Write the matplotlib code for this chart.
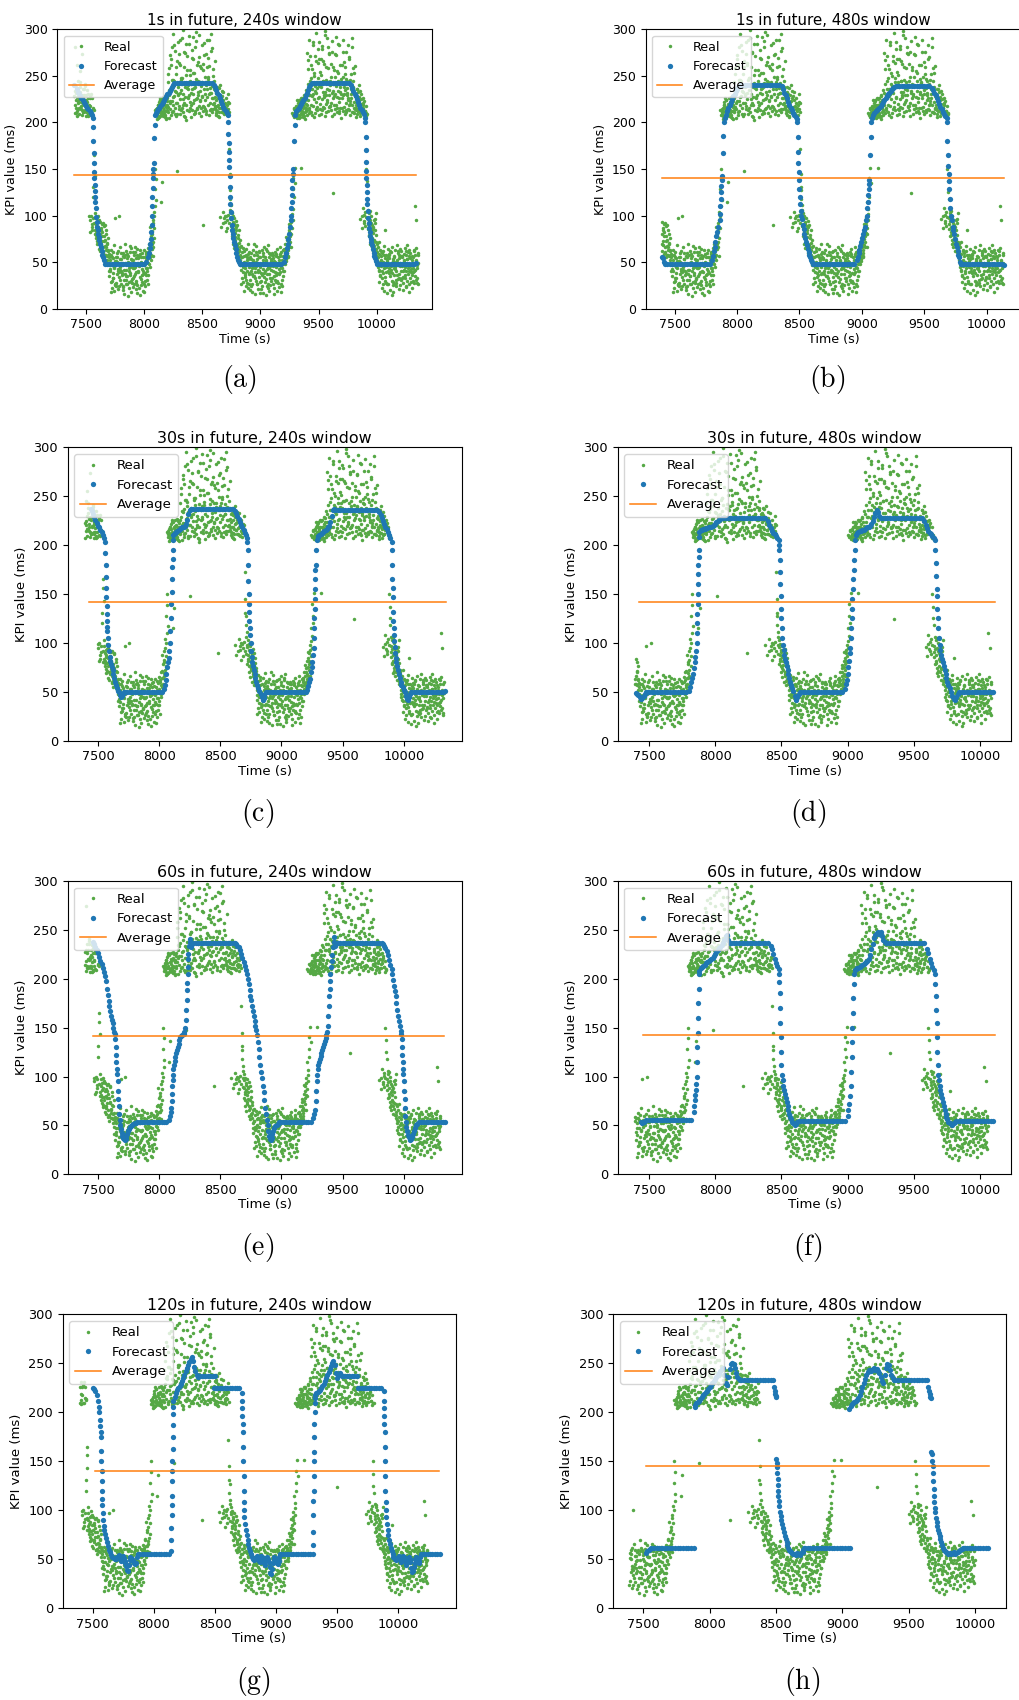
import matplotlib
matplotlib.use('Agg')
from matplotlib import pyplot as plt

plt.rcParams['mathtext.fontset'] = 'cm'

# Real KPI samples, 10 s bins from 7400 s, five samples per bin (time base of panel a)
REAL_T0 = 7400
REAL_STEP = 10
real_a = [
    228, 215, 262, 221, 209, 233, 218, 226, 212, 239,
    224, 217, 231, 95, 210, 88, 131, 92, 84, 79,
    88, 76, 93, 68, 82, 61, 74, 66, 57, 63,
    35, 52, 22, 61, 44, 97, 28, 55, 39, 66,
    27, 49, 60, 16, 42, 35, 57, 22, 46, 65,
    33, 58, 45, 21, 64, 39, 15, 50, 29, 56,
    47, 24, 59, 36, 62, 71, 58, 83, 95, 128,
    208, 212, 219, 206, 224, 210, 215, 221, 208, 217,
    226, 258, 214, 237, 281, 219, 244, 207, 266, 231,
    218, 289, 235, 211, 259, 227, 203, 271, 240, 215,
    241, 213, 268, 224, 210, 297, 233, 218, 261, 207,
    228, 90, 214, 274, 236, 219, 288, 242, 211, 257,
    245, 218, 224, 212, 237, 98, 215, 228, 104, 209,
    226, 208, 214, 172, 127, 96, 84, 91, 72, 88,
    68, 79, 58, 42, 61, 29, 50, 36, 64, 22,
    45, 31, 60, 18, 52, 39, 67, 26, 48, 34,
    55, 24, 43, 66, 29, 51, 37, 19, 59, 42,
    33, 58, 22, 45, 64, 28, 52, 39, 18, 57,
    56, 62, 51, 74, 68, 85, 93, 115, 208, 214,
    211, 218, 206, 223, 213, 209, 226, 215, 204, 220,
    232, 267, 216, 244, 208, 283, 225, 239, 296, 213,
    227, 254, 209, 279, 233, 216, 246, 291, 212, 235,
    245, 221, 124, 256, 214, 239, 227, 284, 210, 231,
    215, 288, 230, 252, 211, 224, 270, 208, 236, 219,
    238, 214, 227, 209, 233, 216, 96, 211, 108, 223,
    212, 150, 118, 94, 82, 100, 76, 88, 67, 79,
    61, 48, 72, 35, 57, 26, 44, 85, 39, 53,
    27, 58, 42, 15, 51, 36, 63, 24, 47, 33,
    49, 31, 57, 40, 65, 23, 53, 37, 18, 60,
    36, 55, 28, 110, 50, 44,
]
real_b = [
    281, 224, 212, 245, 230, 216, 274, 211, 229, 220,
    211, 235, 208, 218, 100, 226, 214, 165, 97, 86,
    71, 95, 62, 85, 59, 78, 90, 58, 70, 48,
    58, 18, 47, 33, 68, 25, 51, 40, 100, 31,
    53, 38, 24, 70, 31, 59, 14, 44, 36, 28,
    61, 26, 37, 54, 17, 47, 63, 32, 43, 19,
    18, 52, 31, 65, 48, 55, 78, 66, 104, 213,
    117, 216, 205, 226, 211, 136, 207, 213, 225, 204,
    211, 229, 272, 208, 223, 295, 215, 252, 148, 238,
    264, 209, 248, 299, 221, 238, 284, 213, 229, 256,
    219, 278, 230, 253, 287, 214, 245, 270, 223, 239,
    263, 217, 249, 209, 227, 269, 213, 232, 280, 220,
    221, 266, 208, 231, 216, 222, 88, 211, 233, 93,
    83, 219, 101, 211, 106, 78, 99, 65, 81, 60,
    90, 62, 74, 55, 33, 47, 19, 58, 41, 53,
    27, 54, 41, 63, 35, 16, 46, 58, 21, 62,
    38, 63, 17, 47, 56, 32, 68, 44, 25, 53,
    60, 27, 50, 36, 19, 55, 43, 66, 31, 48,
    41, 70, 58, 60, 82, 72, 98, 210, 140, 206,
    207, 224, 212, 208, 219, 151, 210, 217, 228, 212,
    219, 241, 289, 211, 257, 230, 206, 271, 222, 248,
    286, 214, 238, 225, 266, 207, 259, 222, 243, 273,
    218, 276, 234, 209, 249, 292, 216, 226, 262, 205,
    242, 212, 265, 221, 237, 283, 213, 246, 226, 258,
    210, 261, 216, 236, 212, 224, 220, 87, 219, 92,
    104, 210, 97, 78, 105, 71, 90, 62, 84, 58,
    70, 55, 41, 63, 22, 50, 67, 30, 58, 17,
    44, 20, 61, 38, 29, 56, 41, 68, 32, 54,
    25, 62, 34, 52, 45, 58, 30, 47, 63, 39,
    57, 30, 62, 42, 95, 26,
]
real_c = [
    210, 238, 227, 214, 255, 222, 208, 236, 219, 213,
    229, 207, 213, 226, 209, 91, 120, 80, 90, 73,
    99, 64, 80, 73, 92, 55, 67, 84, 52, 41,
    43, 63, 30, 54, 19, 48, 37, 62, 24, 45,
    41, 20, 55, 37, 62, 26, 48, 67, 18, 52,
    23, 44, 66, 30, 49, 57, 34, 25, 60, 40,
    38, 61, 44, 27, 70, 88, 64, 92, 76, 150,
    211, 204, 222, 213, 115, 218, 209, 227, 212, 219,
    243, 205, 234, 262, 212, 240, 277, 221, 209, 286,
    232, 246, 216, 225, 276, 206, 251, 236, 293, 222,
    206, 236, 292, 212, 242, 226, 265, 210, 234, 283,
    212, 285, 231, 243, 260, 208, 237, 295, 226, 214,
    238, 213, 233, 219, 206, 240, 226, 217, 210, 221,
    212, 95, 230, 131, 89, 103, 70, 86, 77, 94,
    57, 85, 66, 27, 48, 65, 38, 24, 56, 69,
    61, 20, 37, 50, 70, 44, 30, 53, 40, 17,
    21, 49, 60, 34, 15, 62, 26, 55, 46, 30,
    46, 16, 39, 57, 30, 47, 23, 61, 52, 35,
    64, 48, 77, 55, 91, 78, 66, 102, 128, 151,
    216, 205, 221, 214, 206, 225, 208, 222, 211, 235,
    275, 210, 229, 262, 236, 218, 250, 214, 237, 264,
    208, 243, 268, 217, 229, 298, 220, 236, 281, 217,
    263, 207, 241, 228, 273, 219, 253, 212, 238, 247,
    226, 249, 209, 276, 229, 214, 241, 220, 291, 211,
    253, 228, 206, 221, 240, 207, 230, 215, 226, 101,
    218, 125, 86, 103, 69, 92, 81, 74, 96, 103,
    52, 66, 29, 46, 60, 38, 19, 54, 45, 64,
    59, 35, 48, 66, 18, 45, 28, 52, 62, 21,
    64, 46, 20, 59, 33, 41, 68, 26, 54, 43,
    22, 48, 40, 65, 33, 58,
]
real_d = [
    219, 232, 207, 225, 243, 214, 229, 211, 236, 222,
    213, 226, 219, 82, 231, 97, 213, 143, 76, 93,
    79, 85, 70, 91, 66, 73, 58, 80, 62, 55,
    47, 29, 56, 38, 51, 24, 60, 43, 34, 53,
    36, 57, 31, 49, 26, 54, 40, 61, 30, 45,
    52, 35, 28, 58, 41, 22, 47, 55, 37, 63,
    30, 44, 53, 49, 57, 64, 80, 72, 87, 110,
    214, 207, 216, 224, 209, 220, 212, 206, 218, 223,
    217, 235, 223, 211, 246, 228, 209, 233, 221, 214,
    225, 213, 241, 230, 207, 219, 237, 226, 212, 244,
    232, 221, 209, 238, 225, 216, 229, 243, 215, 227,
    218, 236, 224, 212, 247, 230, 221, 214, 239, 226,
    215, 232, 218, 226, 211, 223, 234, 92, 218, 100,
    215, 87, 221, 145, 111, 88, 76, 97, 84, 70,
    76, 63, 52, 67, 45, 57, 34, 48, 28, 59,
    38, 53, 27, 46, 58, 33, 50, 42, 61, 29,
    47, 36, 57, 41, 52, 24, 45, 60, 33, 50,
    40, 51, 31, 59, 38, 49, 57, 27, 44, 63,
    49, 57, 66, 63, 75, 90, 80, 95, 120, 209,
    215, 209, 218, 205, 226, 212, 219, 207, 224, 213,
    224, 213, 236, 219, 228, 241, 210, 232, 217, 226,
    239, 220, 213, 245, 227, 233, 211, 224, 229, 218,
    213, 232, 226, 219, 240, 211, 234, 222, 215, 243,
    229, 217, 235, 213, 244, 226, 219, 231, 211, 237,
    222, 230, 213, 225, 218, 234, 211, 99, 221, 89,
    207, 137, 91, 79, 95, 66, 86, 73, 92, 64,
    56, 42, 50, 62, 33, 47, 58, 28, 51, 40,
    54, 39, 46, 25, 57, 43, 31, 49, 60, 37,
    41, 55, 28, 50, 36, 62, 44, 57, 33, 48,
    52, 39, 58, 31, 47, 60,
]
real_e = [
    234, 210, 223, 216, 238, 227, 213, 220, 241, 207,
    222, 209, 99, 228, 84, 215, 156, 103, 81, 69,
    94, 70, 87, 78, 60, 89, 63, 71, 76, 59,
    40, 58, 33, 45, 27, 56, 50, 21, 42, 60,
    48, 23, 42, 58, 35, 50, 29, 38, 53, 32,
    44, 61, 39, 25, 54, 46, 59, 36, 48, 27,
    55, 36, 41, 60, 45, 52, 69, 57, 100, 139,
    209, 219, 211, 207, 217, 226, 210, 219, 205, 213,
    252, 221, 268, 246, 227, 283, 234, 259, 229, 274,
    262, 248, 291, 219, 275, 242, 256, 227, 284, 251,
    269, 253, 237, 281, 247, 262, 294, 224, 258, 243,
    256, 272, 240, 289, 249, 261, 232, 277, 250, 236,
    227, 210, 238, 207, 229, 215, 211, 224, 97, 214,
    99, 222, 92, 118, 98, 82, 93, 74, 89, 66,
    61, 71, 47, 55, 39, 62, 44, 31, 52, 37,
    56, 24, 44, 35, 49, 61, 26, 39, 55, 45,
    30, 52, 38, 49, 64, 43, 22, 37, 51, 58,
    54, 35, 61, 29, 48, 37, 59, 45, 24, 41,
    60, 53, 70, 57, 66, 81, 87, 107, 215, 135,
    209, 213, 224, 216, 210, 219, 206, 229, 215, 208,
    257, 229, 271, 248, 286, 253, 234, 266, 243, 279,
    268, 251, 282, 245, 263, 294, 229, 258, 275, 240,
    249, 287, 260, 231, 272, 255, 245, 283, 233, 262,
    276, 238, 259, 247, 232, 268, 223, 252, 281, 244,
    215, 219, 236, 212, 227, 210, 225, 216, 94, 212,
    98, 209, 106, 88, 74, 84, 70, 95, 61, 72,
    45, 59, 36, 52, 41, 62, 34, 49, 26, 56,
    38, 62, 30, 53, 44, 27, 50, 36, 58, 46,
    57, 33, 49, 42, 24, 53, 61, 40, 46, 29,
    44, 63, 35, 52, 28, 49,
]

# Forecasts, 20 s bins from 7400 s; a tuple holds the dots of one bin, None = no forecast
FC_T0 = 7400
FC_STEP = 20
fc_a = ([240, (236, 233), (231, 228), (226, 224), (222, 220), (218, 216), (214, 212), (210, 208),
         (205, 195, 180, 167, 156, 147, 140, 133, 126, 120), (115, 108, 98, 93, 88), (84, 80, 77, 74),
         (70, 66, 62), (58, 55, 52), 48]
        + [48] * 17
        + [(50, 55), (60, 65, 70), (75, 82, 90, 100, 110, 120, 130, 140, 145), (150, 156, 183, 197, 208),
           (210, 212), (214, 216), (218, 220), (222, 224), (226, 228), (230, 232), (234, 236), (238, 240), 242]
        + [242] * 16
        + [(240, 238), (235, 232), (229, 226), (223, 220), (217, 214), (212, 210),
           (208, 200, 188, 178, 168, 160, 152, 142, 131, 120), (112, 104, 97, 90, 84), (80, 76, 72),
           (68, 64, 60), (56, 52, 50), 48]
        + [48] * 18
        + [(50, 55), (60, 65, 70), (75, 80, 88), (95, 100, 108, 115, 122, 130, 138, 145), (150, 180, 197),
           (208, 212), (214, 216), (218, 220), (222, 224), (226, 229), (232, 235), (238, 240), 242]
        + [242] * 16
        + [(240, 237), (234, 231), (228, 225), (222, 219), (216, 213), (211, 209),
           (205, 200, 184, 170, 157, 148, 140, 133, 125, 118), (112, 105, 97, 92, 87), (82, 78, 75, 72),
           (68, 64, 60), (57, 54, 51)]
        + [48] * 17 + [49])
fc_b = ([(55, 54, 50)] + [48] * 19
        + [(52, 57, 62), (66, 72, 78), (82, 88), (95, 102, 110, 118, 125, 132, 138), (142, 167, 185, 200),
           (205, 208), (212, 215), (219, 222), (225, 228), (231, 234), (236, 238), (239, 240)]
        + [240] * 16
        + [(239, 236), (232, 229), (226, 222), (219, 216), (213, 210), (208, 206),
           (204, 200, 184, 168, 156, 147, 138), (128, 120, 112, 105, 100), (96, 90, 86), (80, 76, 72),
           (68, 64, 61), (58, 55, 52), (50, 48)]
        + [48] * 17
        + [(52, 56, 60), (63, 67, 72), (76, 80), (84, 88, 95), (100, 108, 115, 122, 128, 134),
           (138, 165, 184, 200), (205, 208), (210, 212), (213, 214), (216, 218), (220, 222), (224, 226),
           (228, 230), (232, 234), (236, 237), (238, 239)]
        + [239] * 14
        + [(237, 235), (232, 229), (226, 223), (220, 217), (214, 211), (209, 207),
           (205, 200, 180, 165, 153, 145, 137), (128, 118, 108, 100), (95, 88, 84), (80, 75, 70),
           (66, 62, 58), (55, 50, 48)]
        + [48] * 17 + [47])
fc_c = ([None, None, (237, 235), (232, 229), (226, 223), (220, 218), (215, 213), (210, 207),
         (203, 192, 180, 167, 156, 147, 138, 130, 122, 116, 112), (105, 98, 92, 86), (82, 78, 75),
         (72, 68, 64), (60, 57, 54), (51, 50), (47, 45), (46, 48, 50)]
        + [50] * 16
        + [(53, 57, 62), (68, 75, 80), (85, 92, 100, 112, 125), (140, 152, 165, 178, 186, 195, 205, 210),
           (211, 212), (213, 214), (215, 216), (217, 218), (219, 220), (222, 226), (232, 236)]
        + [237] * 18
        + [(235, 233), (230, 227), (224, 221), (218, 215), (212, 210),
           (207, 203, 195, 180, 163, 150, 140, 132, 122), (115, 108, 100, 92, 86), (80, 76, 72),
           (68, 64, 60), (57, 54), (51, 48), (45, 42, 44), (47, 50)]
        + [50] * 16
        + [(50, 52), (56, 60, 63), (70, 75, 80), (88, 95, 105, 115, 125, 135, 145, 155, 165, 175),
           (180, 195, 205, 208), (209, 210), (211, 212), (213, 214), (215, 216), (218, 220), (224, 230),
           (236, 237)]
        + [236] * 18
        + [(234, 231), (228, 225), (222, 219), (216, 213), (210, 207),
           (203, 195, 180, 165, 156, 147, 132, 122, 115, 108), (102, 96, 90, 85), (80, 76, 72),
           (68, 64, 60), (57, 55), (52, 50), (46, 43, 42), (45, 48)]
        + [50] * 14 + [51])
fc_d = ([(49, 48), (47, 45), (43, 44), (46, 48), (50, 50)] + [50] * 15
        + [(51, 55), (60, 64, 68), (74, 80, 86, 92),
           (100, 110, 120, 130, 140, 150, 160, 170, 180, 188, 195, 208), (213, 215), (215, 216),
           (216, 217), (217, 218), (218, 219), (220, 221), (222, 224), (225, 226), (227, 228)]
        + [228] * 17
        + [(225, 221), (217, 214), (212, 211), (209, 207), (205, 200, 195, 185, 172, 160, 148, 135),
           (125, 115, 105, 98, 93), (88, 84, 80), (76, 72, 68), (64, 60, 57), (54, 51), (46, 43, 42),
           (45, 48)]
        + [50] * 17
        + [(53, 58, 62), (68, 75, 82, 90), (95, 105, 115, 125, 135, 145), (155, 165, 175, 185, 195, 205),
           (210, 212), (213, 214), (214, 215), (215, 216), (217, 218), (219, 220), (222, 225), (229, 233),
           (236, 234), (230, 228)]
        + [228] * 16
        + [(225, 221), (217, 214), (212, 211), (209, 207), (205, 195, 182, 168, 155, 148, 135),
           (125, 115, 105, 98), (93, 88, 84), (80, 76, 72), (68, 64, 60), (57, 54), (50, 46), (43, 42),
           (45, 48)]
        + [50] * 14 + [None, None])
fc_e = ([None, None, None, (238, 236), (232, 229), (226, 222), (218, 215), (211, 207), (203, 198, 190),
         (183, 177, 172), (167, 162, 158), (155, 150, 146), (143, 138, 130, 122, 115, 108, 103),
         (95, 85, 77, 70, 62, 56), (50, 46, 42), (39, 37, 36), (35, 36, 38), (41, 44, 46), (48, 49),
         (50, 51), (52, 52)]
        + [53] * 13
        + [(56, 60, 64), (68, 75, 82, 90, 96, 102, 108), (112, 116, 120), (124, 127, 130), (133, 137, 140),
           (141, 142), (143, 146, 150), (158, 168, 178, 188, 196, 205, 212, 220), (225, 234, 241, 238),
           (233, 236)]
        + [237] * 17
        + [(237, 236), (234, 232), (229, 225), (221, 217), (213, 209), (205, 200, 195), (188, 182, 178),
           (172, 167, 162), (157, 152, 148), (142, 135, 128), (120, 112, 105), (98, 90, 84), (76, 68, 62),
           (56, 50, 44), (39, 36, 35), (37, 41, 44), (47, 49), (50, 51)]
        + [53] * 14
        + [(58, 62, 66), (75, 85, 95, 102, 108), (112, 115, 118), (121, 124, 127), (130, 133, 136),
           (139, 142, 146), (152, 162, 172, 182, 190, 198), (205, 212, 218, 224), (232, 243, 238),
           (234, 237)]
        + [237] * 18
        + [(237, 236), (234, 231), (228, 224), (219, 214), (210, 205, 199), (193, 187, 182),
           (175, 168, 162), (157, 152, 147), (143, 138, 130, 122, 115, 108, 103), (95, 85, 77, 68, 60, 53),
           (48, 44, 40), (38, 36, 35), (36, 38, 41), (44, 47), (50, 51)]
        + [53] * 12)
fc_f = ([None, None, (53, 52), (54, 55)] + [56] * 18
        + [(64, 70, 76, 81, 86, 92), (100, 115, 130, 145, 160, 175, 190, 205), (208, 211), (212, 213),
           (214, 216), (217, 218), (219, 220), (221, 223), (225, 227), (229, 231), (233, 235), (237, 240),
           (244, 245), (240, 237)]
        + [237] * 15
        + [(234, 230), (225, 220), (216, 213), (210, 205, 197, 185, 170, 155, 140, 125), (112, 102, 96, 90),
           (86, 82, 78), (74, 70, 66), (62, 59, 57), (54, 52), (50, 51), (53, 55)]
        + [55] * 18
        + [(60, 66, 72), (80, 90, 105, 120, 135, 150), (165, 180, 195, 205, 209), (210, 211), (211, 212),
           (213, 214), (215, 216), (217, 218), (220, 224), (230, 236), (242, 245), (247, 248), (246, 248),
           (244, 240), (238, 237)]
        + [237] * 15
        + [(230, 226), (220, 216), (212, 209), (205, 195, 182, 168, 155, 140, 125), (112, 102, 96, 90),
           (86, 82, 78), (74, 70, 66), (62, 59, 57), (54, 52), (51, 50), (52, 54)]
        + [55] * 15 + [None, None])
fc_g = ([None] * 5
        + [(225, 224), (222, 218), (212, 205, 200), (192, 186, 180, 175, 161, 150, 140, 130, 120, 112, 105),
           (97, 90, 84, 80), (76, 72, 68), (64, 60), (57, 54), (52, 51), (50, 50), (52, 54), (52, 49, 48),
           (50, 53, 51), (48, 46, 43), (39, 38, 44), (49, 52, 51), (50, 48, 46), (47, 45, 46), (52, 55)]
        + [55] * 13
        + [(58, 70, 82, 95, 105, 115, 130, 140, 150, 163, 175, 187, 198, 205), (212, 216), (220, 223),
           (225, 227), (229, 232), (235, 238), (242, 245), (248, 251), (254, 256), (252, 246), (242, 238),
           (236, 237)]
        + [237] * 5 + [(237, 225), (237, 225)] + [225] * 10
        + [(220, 212, 204, 196, 188, 180, 165, 150, 135, 120, 108, 100), (93, 86, 80), (75, 70, 66),
           (62, 58, 55), (52, 50), (49, 50), (52, 53, 50), (48, 47, 51), (53, 52, 49), (46, 44, 48),
           (51, 52, 50), (47, 42, 36), (35, 40, 46), (50, 52, 49), (47, 46, 45), (48, 52, 55)]
        + [55] * 13
        + [(55, 65, 78, 95, 110, 120, 135, 150, 160, 175, 188, 200, 210, 215), (218, 220), (221, 222),
           (223, 225), (227, 229), (232, 235), (238, 241), (244, 247), (250, 252), (248, 240), (235, 238),
           (240, 238)]
        + [237] * 6 + [(237, 225)] + [225] * 10
        + [(222, 212, 204, 196, 188, 180, 165, 150, 135, 120, 108, 100), (93, 86, 80), (75, 70, 66),
           (62, 58, 55), (52, 50), (49, 50), (52, 53, 50), (48, 47, 51), (53, 52, 49), (46, 44, 48),
           (51, 52, 50), (47, 41, 37), (38, 42, 46), (50, 52, 49), (47, 46, 48), (52, 55)]
        + [55] * 8)
fc_h = ([None] * 6 + [(56, 58), (60, 61)] + [62] * 16
        + [(62, 205, 207), (209, 211), (212, 214), (216, 218), (219, 221), (222, 224), (226, 228),
           (230, 232), (234, 236), (238, 240), (242, 244), (245, 238), (230, 228), (236, 244), (249, 250),
           (249, 245), (240, 236), (234, 233)]
        + [233] * 12
        + [(233, 226, 222, 219), (217, 216, 152, 148, 144, 138, 132, 126, 120, 115), (110, 104, 98, 94),
           (90, 86, 82), (78, 74, 71), (68, 65, 62), (60, 58, 57), (56, 55), (55, 54), (56, 55), (54, 56),
           (57, 60, 62)]
        + [62] * 16
        + [(62, 203), (62, 206, 208), (210, 211), (212, 213), (215, 218), (222, 226), (230, 234),
           (238, 241), (243, 243), (242, 244), (245, 243), (244, 242), (240, 236), (232, 230), (238, 245),
           (249, 248), (243, 238), (235, 233)]
        + [233] * 12
        + [(233, 226, 222), (219, 216, 215, 160, 157, 150), (145, 138, 130, 122, 115, 108, 102),
           (98, 92, 88, 84), (80, 77, 74), (71, 68, 65), (62, 60, 58), (57, 56), (55, 56), (55, 56),
           (57, 55), (56, 57), (58, 60), (61, 62)]
        + [62] * 10 + [None, None])

forecasts = [fc_a, fc_b, fc_c, fc_d, fc_e, fc_f, fc_g, fc_h]
titles = ['1s in future, 240s window', '1s in future, 480s window',
          '30s in future, 240s window', '30s in future, 480s window',
          '60s in future, 240s window', '60s in future, 480s window',
          '120s in future, 240s window', '120s in future, 480s window']
sub_labels = ['(a)', '(b)', '(c)', '(d)', '(e)', '(f)', '(g)', '(h)']
real_shift = [0, -225, -30, -270, -60, -300, -120, -360]
averages = [143.5, 140.0, 142.2, 141.5, 141.5, 142.5, 139.8, 144.9]
avg_start = [7400, 7400, 7425, 7425, 7457, 7457, 7520, 7520]
avg_end = [10340, 10140, 10345, 10110, 10330, 10110, 10330, 10105]

# axes boxes in pixels: left, right, top, bottom
boxes = [(57.3, 431.7, 29.3, 308.7), (645.7, 1021.0, 29.3, 308.7),
         (67.7, 461.7, 447.3, 740.7), (617.7, 1011.3, 447.3, 740.7),
         (67.7, 461.7, 881.0, 1174.3), (617.7, 1011.3, 881.0, 1174.3),
         (62.7, 456.0, 1314.3, 1608.3), (613.3, 1006.3, 1314.3, 1608.3)]
xlims = [(7253, 10473), (7268, 10275), (7253, 10473), (7264, 10236),
         (7253, 10473), (7264, 10236), (7253, 10473), (7274, 10236)]
label_pos = [(239, 380), (827, 380), (258, 813), (808, 813),
             (258, 1248), (808, 1248), (253, 1682), (802, 1682)]

W, H = 1019, 1700
GREEN = '#55a845'
BLUE = '#1f77b4'
ORANGE = '#ff7f0e'


def real_points(shift):
    t, v = [], []
    columns = list(zip(real_a, real_b, real_c, real_d, real_e))
    for k, vals in enumerate(columns):
        for j, val in enumerate(vals):
            tt = REAL_T0 + k * REAL_STEP + j * REAL_STEP / len(vals) + shift
            if tt >= 7395:
                t.append(tt)
                v.append(val)
    return t, v


def forecast_points(fc):
    t, v = [], []
    for k, val in enumerate(fc):
        if val is None:
            continue
        vals = val if isinstance(val, tuple) else (val,)
        for j, x in enumerate(vals):
            t.append(FC_T0 + k * FC_STEP + j * FC_STEP / len(vals))
            v.append(x)
    return t, v


fig = plt.figure(figsize=(W / 100, H / 100), dpi=100)

for i in range(8):
    left, right, top, bottom = boxes[i]
    ax = fig.add_axes([left / W, 1 - bottom / H, (right - left) / W, (bottom - top) / H])
    if i < 2:
        tick_fs, lab_fs, title_fs = 9.0, 9.1, 10.9
    else:
        tick_fs, lab_fs, title_fs = 9.3, 9.5, 11.4

    rt, rv = real_points(real_shift[i])
    ax.plot(rt, rv, linestyle='None', marker='o', ms=2.5, mew=0, color=GREEN, label='Real')
    ft, fv = forecast_points(forecasts[i])
    ax.plot(ft, fv, linestyle='None', marker='o', ms=3.8, mew=0, color=BLUE, label='Forecast')
    ax.plot([avg_start[i], avg_end[i]], [averages[i], averages[i]], color=ORANGE, lw=1.1,
            label='Average')

    ax.set_xlim(*xlims[i])
    ax.set_ylim(0, 300)
    ax.set_xticks([7500, 8000, 8500, 9000, 9500, 10000])
    ax.set_yticks([0, 50, 100, 150, 200, 250, 300])
    ax.tick_params(labelsize=tick_fs)
    ax.set_xlabel('Time (s)', fontsize=lab_fs, labelpad=1)
    ax.set_ylabel('KPI value (ms)', fontsize=lab_fs)
    ax.set_title(titles[i], fontsize=title_fs, pad=3)
    ax.legend(loc='upper left', fontsize=lab_fs)

    lx, ly = label_pos[i]
    fig.text(lx / W, 1 - ly / H, r'$\mathrm{%s}$' % sub_labels[i], fontsize=20,
             ha='center', va='center')

plt.savefig('out.png', dpi=100)
